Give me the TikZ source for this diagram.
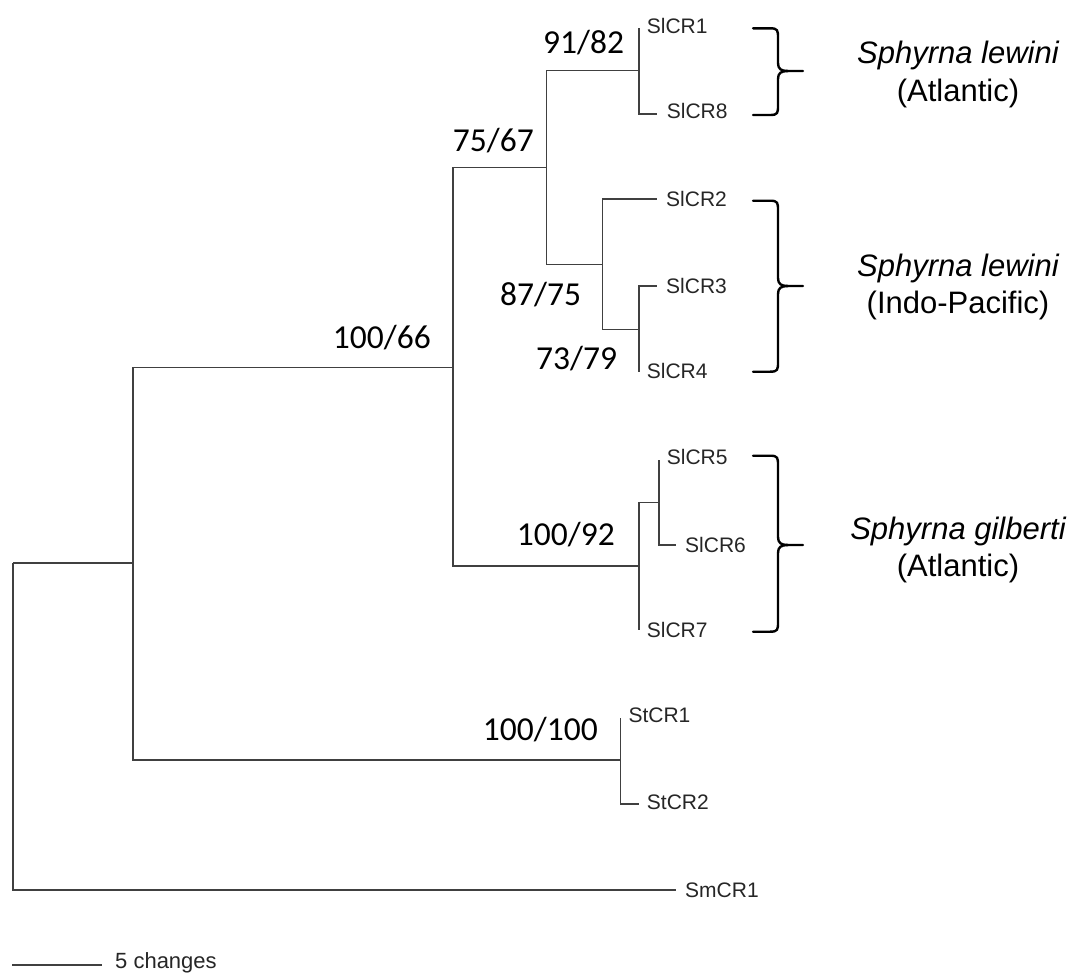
\documentclass[tikz,border=0pt]{standalone}
\usepackage{fontspec}
\setmainfont{Liberation Sans}
\newfontfamily\bsfont{Carlito}
\newcommand\mybrace[3]{%
  \draw[brace] (753,#1) -- (770,#1) .. controls (778,#1) and (778,#1+2) .. (778,#1+10) -- (778,#2-8) .. controls (778,#2-2) and (781,#2) .. (788,#2) -- (803,#2);
  \draw[brace] (753,#3) -- (770,#3) .. controls (778,#3) and (778,#3-2) .. (778,#3-10) -- (778,#2+8) .. controls (778,#2+2) and (781,#2) .. (788,#2);
}
\begin{document}
\begin{tikzpicture}[x=1pt,y=-1pt,
  tree/.style={line width=1.2pt, draw=black!75},
  leaf/.style={anchor=base west, inner sep=0pt, font=\fontsize{21}{25}\selectfont, text=black!85},
  bs/.style={anchor=base west, inner sep=0pt, font=\bsfont\fontsize{33.5}{40}\selectfont},
  sp/.style={anchor=base, inner sep=0pt, font=\fontsize{31}{37}\selectfont},
  brace/.style={line width=2.4pt, line join=round, line cap=round}]
\useasboundingbox (0,0) rectangle (1076,972);
% internal nodes
\coordinate (R) at (13,563);
\coordinate (A) at (133,563);
\coordinate (B) at (453,367.7);
\coordinate (C) at (546.7,167.7);
\coordinate (D) at (639,70.7);
\coordinate (E) at (602.3,264.3);
\coordinate (F) at (639,329.3);
\coordinate (G) at (639,566);
\coordinate (H) at (659,502.3);
\coordinate (St) at (620.7,760);
% tips
\coordinate (t1) at (639,28);
\coordinate (t8) at (656.7,114);
\coordinate (t2) at (656.7,199);
\coordinate (t3) at (657.3,286);
\coordinate (t4) at (639,372);
\coordinate (t5) at (659,460);
\coordinate (t6) at (676,545);
\coordinate (t7) at (639,630);
\coordinate (ts1) at (620.7,717.7);
\coordinate (ts2) at (639,804);
\coordinate (tm) at (676,890);
% branches
\draw[tree] (R) |- (A);
\draw[tree] (R) |- (tm);
\draw[tree] (A) |- (B);
\draw[tree] (A) |- (St);
\draw[tree] (B) |- (C);
\draw[tree] (B) |- (G);
\draw[tree] (C) |- (D);
\draw[tree] (C) |- (E);
\draw[tree] (D) |- (t1);
\draw[tree] (D) |- (t8);
\draw[tree] (E) |- (t2);
\draw[tree] (E) |- (F);
\draw[tree] (F) |- (t3);
\draw[tree] (F) |- (t4);
\draw[tree] (G) |- (H);
\draw[tree] (G) |- (t7);
\draw[tree] (H) |- (t5);
\draw[tree] (H) |- (t6);
\draw[tree] (St) |- (ts1);
\draw[tree] (St) |- (ts2);
% leaf labels
\node[leaf] (l1) at (646.7,33.3) {SlCR1};
\node[leaf] (l8) at (666.7,118) {SlCR8};
\node[leaf] (l2) at (666,206) {SlCR2};
\node[leaf] (l3) at (666,293) {SlCR3};
\node[leaf] (l4) at (646.7,378) {SlCR4};
\node[leaf] (l5) at (666.7,464.5) {SlCR5};
\node[leaf] (l6) at (685,552) {SlCR6};
\node[leaf] (l7) at (646.7,637) {SlCR7};
\node[leaf] (ls1) at (628.3,722) {StCR1};
\node[leaf] (ls2) at (646.7,809) {StCR2};
\node[leaf] (lm) at (685,897) {SmCR1};
% bootstrap labels
\node[bs] (b1) at (543,53.3) {91/82};
\node[bs] (b2) at (452.7,151.7) {75/67};
\node[bs] (b3) at (332.7,348) {100/66};
\node[bs] (b4) at (500,305) {87/75};
\node[bs] (b5) at (536,369.3) {73/79};
\node[bs] (b6) at (516.7,545) {100/92};
\node[bs] (b7) at (482.7,740.7) {100/100};
% braces
\mybrace{28.3}{71}{115}
\mybrace{200.7}{286}{371.7}
\mybrace{455.7}{545}{631.7}
% species labels
\node[sp] (s1a) at (958,63.3) {\itshape Sphyrna lewini};
\node[sp] (s1b) at (958,101.7) {(Atlantic)};
\node[sp] (s2a) at (958,276.7) {\itshape Sphyrna lewini};
\node[sp] (s2b) at (958,313) {(Indo-Pacific)};
\node[sp] (s3a) at (958,539) {\itshape Sphyrna gilberti};
\node[sp] (s3b) at (958,576) {(Atlantic)};
% scale bar
\coordinate (sb1) at (12.3,965);
\coordinate (sb2) at (101.7,965);
\draw[tree] (sb1) -- (sb2);
\node[leaf, font=\fontsize{22}{26}\selectfont] (sbl) at (115,968) {5 changes};
\end{tikzpicture}
\end{document}
